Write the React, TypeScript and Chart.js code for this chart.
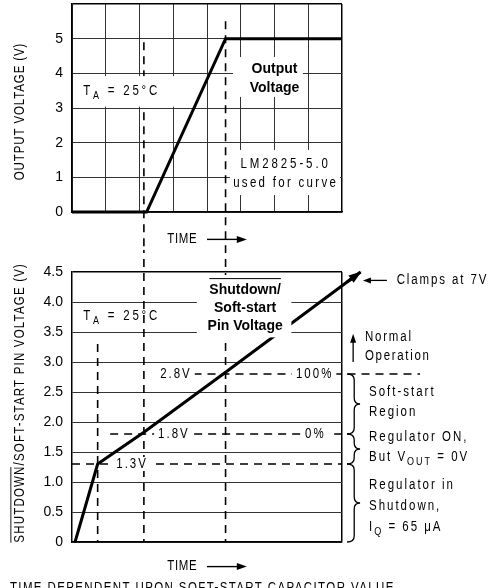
import React, { useEffect, useRef } from 'react';
import { Chart, registerables } from 'chart.js';

Chart.register(...registerables);

// ---------- data ----------
const outputTicks = [0, 1, 2, 3, 4, 5];
const outputTime = [0, 2.21, 4.55, 8];
const outputVolts = [0, 0, 5, 5];

const pinTickLabels = ['0', '0.5', '1.0', '1.5', '2.0', '2.5', '3.0', '3.5', '4.0', '4.5'];
const pinTime = [0.09, 0.76, 2.13, 4.55, 8.55];
const pinVolts = [0, 1.3, 1.83, 2.83, 4.5];

const markerTimes = [0.76, 2.13, 4.55];
const thresholdVolts = [1.3, 1.8, 2.8];
const thresholdLabels = ['1.3V', '1.8V', '2.8V'];
const percentLabels = ['', '0%', '100%'];

// ---------- styling ----------
const FONT_SANS = "'Liberation Sans', Arial, sans-serif";
const NARROW = 0.82; // horizontal squeeze that imitates the narrow lettering of the original
const DASH = [8, 6];

type Part = [string, boolean];

function drawParts(
  ctx: CanvasRenderingContext2D,
  x: number,
  y: number,
  parts: Part[],
  size: number,
  opts: { align?: 'left' | 'center'; spacing?: number; bold?: boolean } = {}
) {
  const hs = opts.bold ? 1 : NARROW;
  const sp = opts.spacing ?? 0;
  const fontFor = (sub: boolean) => `${opts.bold ? 'bold ' : ''}${sub ? Math.round(size * 0.78) : size}px ${FONT_SANS}`;
  ctx.save();
  (ctx as any).letterSpacing = sp / hs + 'px';
  let total = 0;
  const widths = parts.map(([t, sub]) => {
    ctx.font = fontFor(sub);
    const w = ctx.measureText(t).width * hs;
    total += w;
    return w;
  });
  const left = opts.align === 'center' ? x - total / 2 : x;
  let cx = left;
  ctx.textBaseline = 'middle';
  ctx.textAlign = 'left';
  ctx.fillStyle = '#000';
  ctx.scale(hs, 1);
  parts.forEach(([t, sub], i) => {
    ctx.font = fontFor(sub);
    ctx.fillText(t, cx / hs, sub ? y + size * 0.35 : y);
    cx += widths[i];
  });
  ctx.restore();
  return { left, width: total };
}

function textWidth(ctx: CanvasRenderingContext2D, text: string, size: number, spacing: number) {
  ctx.save();
  ctx.font = `${size}px ${FONT_SANS}`;
  (ctx as any).letterSpacing = spacing / NARROW + 'px';
  const w = ctx.measureText(text).width * NARROW;
  ctx.restore();
  return w;
}

function arrow(ctx: CanvasRenderingContext2D, x1: number, y1: number, x2: number, y2: number, head: number, half: number, lw: number) {
  const a = Math.atan2(y2 - y1, x2 - x1);
  const bx = x2 - head * Math.cos(a);
  const by = y2 - head * Math.sin(a);
  ctx.save();
  ctx.strokeStyle = '#000';
  ctx.fillStyle = '#000';
  ctx.lineWidth = lw;
  ctx.setLineDash([]);
  ctx.beginPath();
  ctx.moveTo(x1, y1);
  ctx.lineTo(bx + 2 * Math.cos(a), by + 2 * Math.sin(a));
  ctx.stroke();
  ctx.beginPath();
  ctx.moveTo(x2, y2);
  ctx.lineTo(bx - half * Math.sin(a), by + half * Math.cos(a));
  ctx.lineTo(bx + half * Math.sin(a), by - half * Math.cos(a));
  ctx.closePath();
  ctx.fill();
  ctx.restore();
}

function brace(ctx: CanvasRenderingContext2D, x: number, yTop: number, yBot: number, w: number) {
  const xm = x + w * 0.55;
  const ym = (yTop + yBot) / 2;
  const r = Math.min(6, (yBot - yTop) / 4);
  ctx.save();
  ctx.strokeStyle = '#000';
  ctx.lineWidth = 1.3;
  ctx.setLineDash([]);
  ctx.beginPath();
  ctx.moveTo(x, yTop);
  ctx.quadraticCurveTo(xm, yTop, xm, yTop + r);
  ctx.lineTo(xm, ym - r);
  ctx.quadraticCurveTo(xm, ym, x + w, ym);
  ctx.quadraticCurveTo(xm, ym, xm, ym + r);
  ctx.lineTo(xm, yBot - r);
  ctx.quadraticCurveTo(xm, yBot, x, yBot);
  ctx.stroke();
  ctx.restore();
}

function whiteRect(ctx: CanvasRenderingContext2D, x1: number, y1: number, x2: number, y2: number) {
  ctx.save();
  ctx.fillStyle = '#fff';
  ctx.fillRect(Math.min(x1, x2), Math.min(y1, y2), Math.abs(x2 - x1), Math.abs(y2 - y1));
  ctx.restore();
}

function labelOnWhite(ctx: CanvasRenderingContext2D, cx: number, cy: number, text: string) {
  const w = textWidth(ctx, text, 14, 2);
  whiteRect(ctx, cx - w / 2 - 4, cy - 7, cx + w / 2 + 3, cy + 7);
  drawParts(ctx, cx, cy, [[text, false]], 14, { align: 'center', spacing: 2 });
}

function rotatedTitle(ctx: CanvasRenderingContext2D, cx: number, cy: number, text: string, spacing: number, overlinePrefix?: string) {
  ctx.save();
  ctx.translate(cx, cy);
  ctx.rotate(-Math.PI / 2);
  ctx.scale(NARROW, 1);
  ctx.font = `14px ${FONT_SANS}`;
  (ctx as any).letterSpacing = spacing / NARROW + 'px';
  ctx.fillStyle = '#000';
  ctx.textBaseline = 'middle';
  ctx.textAlign = 'left';
  const total = ctx.measureText(text).width;
  ctx.fillText(text, -total / 2, 0);
  if (overlinePrefix) {
    const w = ctx.measureText(overlinePrefix).width;
    ctx.strokeStyle = '#000';
    ctx.lineWidth = 1;
    ctx.beginPath();
    ctx.moveTo(-total / 2, -9.5);
    ctx.lineTo(-total / 2 + w - 2, -9.5);
    ctx.stroke();
  }
  ctx.restore();
}

const pts = (xs: number[], ys: number[]) => xs.map((x, i) => ({ x, y: ys[i] }));

const dashedSet = (data: { x: number; y: number }[]) => ({
  data,
  borderColor: '#000',
  borderWidth: 1.6,
  borderDash: DASH,
  pointRadius: 0,
  fill: false,
  tension: 0,
  clip: false as const,
});

// ---------- top chart ----------
const topPlugin = {
  id: 'topAnnotations',
  afterDraw(chart: any) {
    const ctx: CanvasRenderingContext2D = chart.ctx;
    const sx = chart.scales.x;
    const sy = chart.scales.y;
    const px = (u: number) => sx.getPixelForValue(u);
    const py = (v: number) => sy.getPixelForValue(v);

    // T_A box
    whiteRect(ctx, px(0.03), py(3.92), px(3.2), py(3.04));
    drawParts(ctx, px(0.33), py(3.48), [['T', false], ['A', true], [' = 25°C', false]], 14, { spacing: 2.8 });

    // Output Voltage box
    whiteRect(ctx, px(4.77), py(4.47), px(6.84), py(3.32));
    drawParts(ctx, px(6.0), py(4.12), [['Output', false]], 14, { align: 'center', bold: true });
    drawParts(ctx, px(6.0), py(3.58), [['Voltage', false]], 14, { align: 'center', bold: true });

    // LM2825 box
    whiteRect(ctx, px(4.68), py(1.79), px(7.94), py(0.49));
    drawParts(ctx, px(6.33), py(1.38), [['LM2825-5.0', false]], 14, { align: 'center', spacing: 2.9 });
    drawParts(ctx, px(6.33), py(0.84), [['used for curve', false]], 14, { align: 'center', spacing: 2.3 });

    // axis title
    rotatedTitle(ctx, px(-1.53), py(2.9), 'OUTPUT VOLTAGE (V)', 0.9);

    // TIME arrow
    const ty = py(-0.79);
    drawParts(ctx, px(2.82), ty, [['TIME', false]], 14, { spacing: 0.7 });
    arrow(ctx, px(4.0), ty, px(5.18), ty, 10, 3.5, 1.4);
  },
};

function topConfig(): any {
  return {
    type: 'line',
    data: {
      datasets: [
        {
          data: pts(outputTime, outputVolts),
          borderColor: '#000',
          borderWidth: 3,
          pointRadius: 0,
          fill: false,
          tension: 0,
          clip: false,
        },
        dashedSet([{ x: markerTimes[1], y: 4.9 }, { x: markerTimes[1], y: -1.2 }]),
        dashedSet([{ x: markerTimes[2], y: 5.5 }, { x: markerTimes[2], y: -1.2 }]),
      ],
    },
    options: {
      responsive: false,
      animation: false,
      devicePixelRatio: 1,
      layout: { padding: { left: 0, right: 150, top: 4, bottom: 38 } },
      plugins: { legend: { display: false }, tooltip: { enabled: false } },
      events: [],
      scales: {
        x: {
          type: 'linear',
          min: 0,
          max: 8,
          ticks: { display: false, stepSize: 1 },
          grid: {
            drawTicks: false,
            color: (c: any) => (c.tick && c.tick.value === 8 ? '#000' : '#333'),
            lineWidth: (c: any) => (c.tick && c.tick.value === 8 ? 1.5 : 1),
          },
          border: { display: true, color: '#000', width: 1.5 },
          afterFit: (s: any) => {
            s.height = 0;
            s.paddingLeft = 0;
            s.paddingRight = 0;
          },
        },
        y: {
          type: 'linear',
          min: 0,
          max: 6,
          ticks: {
            stepSize: 1,
            padding: 9,
            color: '#000',
            font: { family: FONT_SANS, size: 14 },
            callback: (v: number) => (outputTicks.includes(v) ? String(v) : ''),
          },
          grid: {
            drawTicks: false,
            color: (c: any) => (c.tick && c.tick.value === 6 ? '#000' : '#333'),
            lineWidth: (c: any) => (c.tick && c.tick.value === 6 ? 1.5 : 1),
          },
          border: { display: true, color: '#000', width: 1.5 },
          afterFit: (s: any) => {
            s.width = 72;
            s.paddingTop = 0;
            s.paddingBottom = 0;
          },
        },
      },
    },
    plugins: [topPlugin],
  };
}

// ---------- bottom chart ----------
const bottomPlugin = {
  id: 'bottomAnnotations',
  afterDraw(chart: any) {
    const ctx: CanvasRenderingContext2D = chart.ctx;
    const sx = chart.scales.x;
    const sy = chart.scales.y;
    const px = (u: number) => sx.getPixelForValue(u);
    const py = (v: number) => sy.getPixelForValue(v);

    // arrowhead on the pin-voltage curve
    const meta = chart.getDatasetMeta(0);
    const n = meta.data.length;
    const a = meta.data[n - 2];
    const b = meta.data[n - 1];
    arrow(ctx, b.x - (b.x - a.x) * 0.1, b.y - (b.y - a.y) * 0.1, b.x + 1, b.y - 0.5, 13, 4.5, 3);

    // Shutdown / Soft-start label box
    whiteRect(ctx, px(3.7), py(4.45), px(6.5), py(3.41));
    const l1 = drawParts(ctx, px(5.13), py(4.2), [['Shutdown/', false]], 14, { align: 'center', bold: true });
    drawParts(ctx, px(5.13), py(3.9), [['Soft-start', false]], 14, { align: 'center', bold: true });
    drawParts(ctx, px(5.13), py(3.59), [['Pin Voltage', false]], 14, { align: 'center', bold: true });
    ctx.save();
    ctx.strokeStyle = '#000';
    ctx.lineWidth = 1;
    ctx.beginPath();
    ctx.moveTo(l1.left, py(4.39));
    ctx.lineTo(l1.left + l1.width, py(4.39));
    ctx.stroke();
    ctx.restore();

    // T_A
    drawParts(ctx, px(0.33), py(3.76), [['T', false], ['A', true], [' = 25°C', false]], 14, { spacing: 2.8 });

    // threshold labels
    const labelX = [1.78, 3.02, 3.08];
    const pctX = [0, 7.21, 7.19];
    thresholdVolts.forEach((v, i) => {
      labelOnWhite(ctx, px(labelX[i]), py(v), thresholdLabels[i]);
      if (percentLabels[i]) labelOnWhite(ctx, px(pctX[i]), py(v), percentLabels[i]);
    });

    // braces
    const bx = px(8.15);
    brace(ctx, bx, py(thresholdVolts[2]), py(thresholdVolts[1]), 13);
    brace(ctx, bx, py(thresholdVolts[1]), py(thresholdVolts[0]), 13);
    brace(ctx, bx, py(thresholdVolts[0]), py(0), 13);

    // Normal operation
    arrow(ctx, px(8.33), py(3.0), px(8.33), py(3.47), 9, 3, 1.3);
    drawParts(ctx, px(8.68), py(3.42), [['Normal', false]], 14, { spacing: 1.8 });
    drawParts(ctx, px(8.68), py(3.1), [['Operation', false]], 14, { spacing: 1.7 });

    // Clamps
    arrow(ctx, px(9.33), py(4.36), px(8.62), py(4.36), 8, 3, 1.3);
    drawParts(ctx, px(9.62), py(4.36), [['Clamps at 7V', false]], 14, { spacing: 1.9 });

    // region descriptions
    const tx = px(8.8);
    drawParts(ctx, tx, py(2.49), [['Soft-start', false]], 14, { spacing: 2 });
    drawParts(ctx, tx, py(2.16), [['Region', false]], 14, { spacing: 2 });
    drawParts(ctx, tx, py(1.74), [['Regulator ON,', false]], 14, { spacing: 2 });
    drawParts(ctx, tx, py(1.42), [['But V', false], ['OUT', true], [' = 0V', false]], 14, { spacing: 2 });
    drawParts(ctx, tx, py(0.94), [['Regulator in', false]], 14, { spacing: 2 });
    drawParts(ctx, tx, py(0.59), [['Shutdown,', false]], 14, { spacing: 2 });
    drawParts(ctx, tx, py(0.25), [['I', false], ['Q', true], [' = 65 μA', false]], 14, { spacing: 2 });

    // axis title with overline
    rotatedTitle(ctx, px(-1.53), py(2.32), 'SHUTDOWN/SOFT-START PIN VOLTAGE (V)', 1.2, 'SHUTDOWN');

    // TIME arrow
    const ty = py(-0.41);
    drawParts(ctx, px(2.82), ty, [['TIME', false]], 14, { spacing: 0.7 });
    arrow(ctx, px(4.0), ty, px(5.18), ty, 10, 3.5, 1.4);

    // footnote (cut by the page edge)
    drawParts(ctx, px(-1.84), py(-0.85) - 5, [['TIME DEPENDENT UPON SOFT-START CAPACITOR VALUE', false]], 14, { spacing: 1.4 });
  },
};

function bottomConfig(): any {
  return {
    type: 'line',
    data: {
      datasets: [
        {
          data: pts(pinTime, pinVolts),
          borderColor: '#000',
          borderWidth: 3,
          pointRadius: 0,
          fill: false,
          tension: 0,
          clip: false,
        },
        dashedSet([{ x: markerTimes[0], y: 3.3 }, { x: markerTimes[0], y: 0 }]),
        dashedSet([{ x: markerTimes[1], y: 4.95 }, { x: markerTimes[1], y: 0 }]),
        dashedSet([{ x: markerTimes[2], y: 4.95 }, { x: markerTimes[2], y: 0 }]),
        dashedSet([{ x: 0, y: thresholdVolts[0] }, { x: 8, y: thresholdVolts[0] }]),
        dashedSet([{ x: 1.13, y: thresholdVolts[1] }, { x: 8, y: thresholdVolts[1] }]),
        dashedSet([{ x: 3.6, y: thresholdVolts[2] }, { x: 10.31, y: thresholdVolts[2] }]),
      ],
    },
    options: {
      responsive: false,
      animation: false,
      devicePixelRatio: 1,
      layout: { padding: { left: 0, right: 150, top: 22, bottom: 46 } },
      plugins: { legend: { display: false }, tooltip: { enabled: false } },
      events: [],
      scales: {
        x: {
          type: 'linear',
          min: 0,
          max: 8,
          ticks: { display: false, stepSize: 1 },
          grid: {
            drawTicks: false,
            color: (c: any) => (c.tick && c.tick.value === 8 ? '#000' : 'rgba(0,0,0,0)'),
            lineWidth: 1.5,
          },
          border: { display: true, color: '#000', width: 1.5 },
          afterFit: (s: any) => {
            s.height = 0;
            s.paddingLeft = 0;
            s.paddingRight = 0;
          },
        },
        y: {
          type: 'linear',
          min: 0,
          max: 4.5,
          ticks: {
            stepSize: 0.5,
            padding: 9,
            color: '#000',
            font: { family: FONT_SANS, size: 14 },
            callback: (_v: number, i: number) => pinTickLabels[i] ?? '',
          },
          grid: {
            drawTicks: false,
            color: (c: any) => (c.tick && c.tick.value === 4.5 ? '#000' : '#333'),
            lineWidth: (c: any) => (c.tick && c.tick.value === 4.5 ? 1.5 : 1),
          },
          border: { display: true, color: '#000', width: 1.5 },
          afterFit: (s: any) => {
            s.width = 72;
            s.paddingTop = 0;
            s.paddingBottom = 0;
          },
        },
      },
    },
    plugins: [bottomPlugin],
  };
}

export default function App() {
  const topRef = useRef<HTMLCanvasElement>(null);
  const botRef = useRef<HTMLCanvasElement>(null);
  useEffect(() => {
    const top = new Chart(topRef.current as HTMLCanvasElement, topConfig());
    const bot = new Chart(botRef.current as HTMLCanvasElement, bottomConfig());
    return () => {
      top.destroy();
      bot.destroy();
    };
  }, []);
  return (
    <div style={{ position: 'absolute', left: 0, top: 0, width: 492, height: 588, background: '#fff', overflow: 'hidden' }}>
      <canvas ref={topRef} width={492} height={250} style={{ position: 'absolute', left: 0, top: 0, width: 492, height: 250 }} />
      <canvas ref={botRef} width={492} height={338} style={{ position: 'absolute', left: 0, top: 250, width: 492, height: 338 }} />
    </div>
  );
}
